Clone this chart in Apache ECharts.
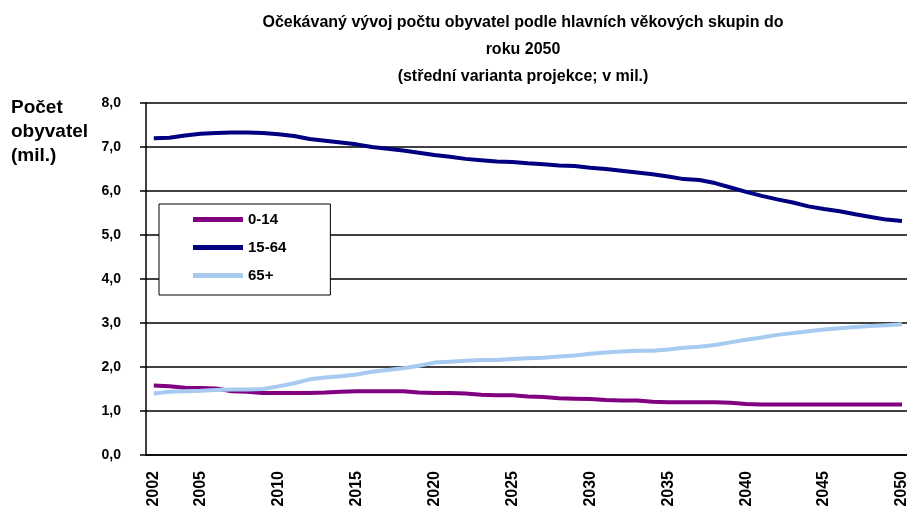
<!DOCTYPE html>
<html>
<head>
    <meta charset="utf-8">
    <title></title>
    <script src="https://cdn.jsdelivr.net/npm/echarts@6/dist/echarts.min.js"></script>
    <style type="text/css">
        html,
        body {
            margin: 0;
            padding: 0;
            overflow: hidden;
            background: #ffffff;
        }
    </style>
</head>
<body>
    <div id="graf" style="width: 910px; height: 515px;"></div>

    <script type="text/javascript">
        // roky na ose x
        var roky = ['2002', '2003', '2004', '2005', '2006', '2007', '2008', '2009', '2010',
            '2011', '2012', '2013', '2014', '2015', '2016', '2017', '2018', '2019', '2020',
            '2021', '2022', '2023', '2024', '2025', '2026', '2027', '2028', '2029', '2030',
            '2031', '2032', '2033', '2034', '2035', '2036', '2037', '2038', '2039', '2040',
            '2041', '2042', '2043', '2044', '2045', '2046', '2047', '2048', '2049', '2050'];

        // pocet obyvatel v mil.
        var deti = [1.58, 1.56, 1.53, 1.52, 1.51, 1.45, 1.44, 1.41, 1.41,
            1.41, 1.41, 1.42, 1.44, 1.45, 1.45, 1.45, 1.45, 1.42, 1.41,
            1.41, 1.40, 1.37, 1.36, 1.36, 1.33, 1.32, 1.29, 1.28, 1.27,
            1.25, 1.24, 1.24, 1.21, 1.20, 1.20, 1.20, 1.20, 1.19, 1.16,
            1.15, 1.15, 1.15, 1.15, 1.15, 1.15, 1.15, 1.15, 1.15, 1.15];

        var produktivni = [7.20, 7.21, 7.26, 7.30, 7.32, 7.33, 7.33, 7.32, 7.29,
            7.25, 7.18, 7.14, 7.10, 7.06, 7.00, 6.96, 6.92, 6.87, 6.82,
            6.78, 6.73, 6.70, 6.67, 6.66, 6.63, 6.61, 6.58, 6.57, 6.53,
            6.50, 6.46, 6.42, 6.38, 6.33, 6.27, 6.25, 6.18, 6.08, 5.98,
            5.89, 5.81, 5.74, 5.65, 5.59, 5.54, 5.47, 5.41, 5.35, 5.32];

        var seniori = [1.40, 1.44, 1.45, 1.46, 1.48, 1.49, 1.49, 1.50, 1.56,
            1.63, 1.72, 1.76, 1.79, 1.83, 1.89, 1.93, 1.97, 2.03, 2.10,
            2.12, 2.14, 2.16, 2.16, 2.18, 2.20, 2.21, 2.24, 2.26, 2.30,
            2.33, 2.35, 2.37, 2.37, 2.40, 2.44, 2.46, 2.50, 2.56, 2.62,
            2.67, 2.73, 2.77, 2.81, 2.85, 2.88, 2.91, 2.93, 2.95, 2.97];

        var skupiny = ['0-14', '15-64', '65+'];
        var barvy = ['#800080', '#000080', '#a6caf0'];

        var myChart = echarts.init(document.getElementById('graf'));

        var pismo = 'Arial, "Liberation Sans", sans-serif';

        var option = {
            animation: false,
            title: {
                text: 'Očekávaný vývoj počtu obyvatel podle hlavních věkových skupin do\nroku 2050\n(střední varianta projekce; v mil.)',
                left: 518,
                top: 4,
                textAlign: 'center',
                textStyle: {
                    fontFamily: pismo,
                    fontSize: 16,
                    fontWeight: 'bold',
                    color: '#000',
                    lineHeight: 27
                }
            },
            graphic: [{
                type: 'text',
                left: 11,
                top: 96,
                style: {
                    text: 'Počet\nobyvatel\n(mil.)',
                    font: 'bold 19px ' + pismo,
                    lineHeight: 24,
                    fill: '#000'
                }
            }],
            legend: {
                orient: 'vertical',
                left: 159,
                top: 204,
                data: skupiny,
                icon: 'rect',
                itemWidth: 50,
                itemHeight: 5,
                itemGap: 13,
                padding: [8, 44, 12, 34],
                borderColor: '#000',
                borderWidth: 1,
                backgroundColor: '#fff',
                textStyle: {
                    fontFamily: pismo,
                    fontSize: 15,
                    fontWeight: 'bold',
                    color: '#000'
                }
            },
            grid: {
                left: 146,
                right: 0,
                top: 103,
                bottom: 60
            },
            xAxis: {
                type: 'category',
                data: roky,
                boundaryGap: true,
                axisLine: { lineStyle: { color: '#000', width: 1.5 } },
                axisTick: {
                    interval: 0,
                    length: 7,
                    lineStyle: { color: '#000', width: 1.5 }
                },
                axisLabel: {
                    interval: function (index, value) {
                        return value === '2002' || Number(value) % 5 === 0;
                    },
                    rotate: 90,
                    margin: 16,
                    fontFamily: pismo,
                    fontSize: 16,
                    fontWeight: 'bold',
                    color: '#000'
                },
                splitLine: { show: false }
            },
            yAxis: {
                type: 'value',
                min: 0,
                max: 8,
                interval: 1,
                axisLine: { show: true, lineStyle: { color: '#000', width: 1.5 } },
                axisTick: { show: true, length: 6, lineStyle: { color: '#000', width: 1.5 } },
                axisLabel: {
                    margin: 25,
                    fontFamily: pismo,
                    fontSize: 14,
                    fontWeight: 'bold',
                    color: '#000',
                    formatter: function (v) {
                        return v.toFixed(1).replace('.', ',');
                    }
                },
                splitLine: { show: true, lineStyle: { color: '#000', width: 1.5 } }
            },
            series: [
                {
                    name: skupiny[0],
                    type: 'line',
                    data: deti,
                    symbol: 'none',
                    itemStyle: { color: barvy[0] },
                    lineStyle: { color: barvy[0], width: 4 }
                },
                {
                    name: skupiny[1],
                    type: 'line',
                    data: produktivni,
                    symbol: 'none',
                    itemStyle: { color: barvy[1] },
                    lineStyle: { color: barvy[1], width: 4 }
                },
                {
                    name: skupiny[2],
                    type: 'line',
                    data: seniori,
                    symbol: 'none',
                    itemStyle: { color: barvy[2] },
                    lineStyle: { color: barvy[2], width: 4 }
                }
            ]
        };
        myChart.setOption(option);
    </script>
</body>
</html>
